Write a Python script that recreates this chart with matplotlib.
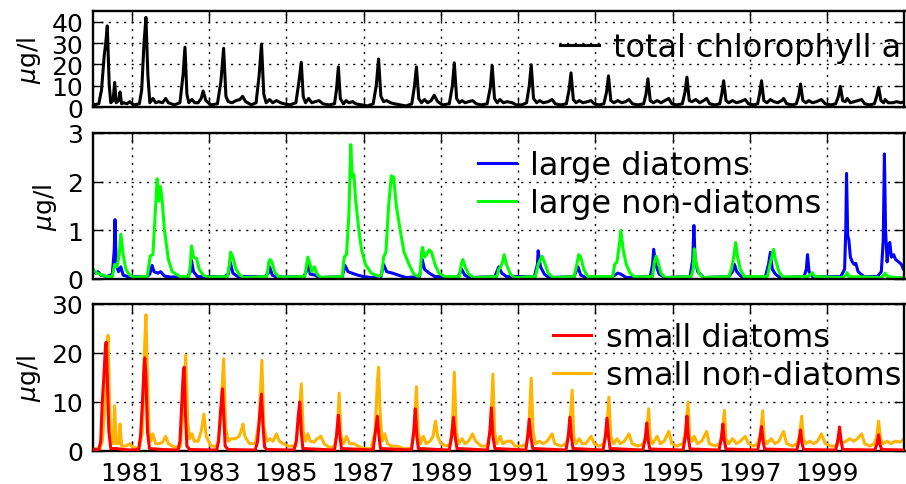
import matplotlib
matplotlib.use("Agg")
import matplotlib.pyplot as plt
import numpy as np

plt.rcParams['font.family'] = ['DejaVu Sans']
plt.rcParams['mathtext.fontset'] = 'dejavusans'
plt.rcParams['lines.scale_dashes'] = False

# ---------------- data (decimal years, values in ug/l) ----------------
total_t = [1980.00, 1980.15, 1980.22, 1980.29, 1980.33, 1980.37, 1980.42, 1980.46, 1980.52, 1980.56, 1980.60, 1980.66, 1980.70, 1980.74, 1980.80, 1980.88, 1980.95,
           1981.05, 1981.20, 1981.26, 1981.32, 1981.37, 1981.42, 1981.47, 1981.55, 1981.62, 1981.70, 1981.80, 1981.88, 1981.95,
           1982.10, 1982.25, 1982.33, 1982.38, 1982.43, 1982.48, 1982.56, 1982.63, 1982.72, 1982.80, 1982.85, 1982.92,
           1983.05, 1983.22, 1983.31, 1983.38, 1983.44, 1983.50, 1983.60, 1983.70, 1983.80, 1983.87, 1983.95,
           1984.10, 1984.22, 1984.30, 1984.36, 1984.42, 1984.48, 1984.57, 1984.65, 1984.75, 1984.85, 1984.95,
           1985.10, 1985.25, 1985.33, 1985.39, 1985.44, 1985.50, 1985.58, 1985.66, 1985.75, 1985.85, 1985.95,
           1986.10, 1986.25, 1986.30, 1986.35, 1986.40, 1986.48, 1986.55, 1986.62, 1986.72, 1986.80, 1986.95,
           1987.10, 1987.25, 1987.33, 1987.39, 1987.45, 1987.52, 1987.60, 1987.70, 1987.80, 1987.95,
           1988.10, 1988.25, 1988.32, 1988.37, 1988.43, 1988.50, 1988.58, 1988.66, 1988.75, 1988.83, 1988.92,
           1989.05, 1989.22, 1989.30, 1989.35, 1989.41, 1989.48, 1989.55, 1989.63, 1989.72, 1989.82, 1989.92,
           1990.05, 1990.20, 1990.28, 1990.33, 1990.39, 1990.46, 1990.53, 1990.62, 1990.72, 1990.85, 1990.95,
           1991.10, 1991.22, 1991.29, 1991.34, 1991.40, 1991.48, 1991.56, 1991.65, 1991.78, 1991.88, 1991.96,
           1992.10, 1992.25, 1992.32, 1992.37, 1992.43, 1992.50, 1992.58, 1992.68, 1992.80, 1992.89, 1992.97,
           1993.10, 1993.22, 1993.29, 1993.34, 1993.40, 1993.48, 1993.58, 1993.68, 1993.78, 1993.87, 1993.96,
           1994.10, 1994.25, 1994.31, 1994.36, 1994.42, 1994.50, 1994.60, 1994.70, 1994.80, 1994.90, 1994.98,
           1995.10, 1995.25, 1995.32, 1995.37, 1995.43, 1995.50, 1995.60, 1995.70, 1995.80, 1995.88, 1995.96,
           1996.10, 1996.22, 1996.27, 1996.32, 1996.38, 1996.45, 1996.55, 1996.65, 1996.75, 1996.88, 1996.96,
           1997.10, 1997.20, 1997.25, 1997.30, 1997.36, 1997.44, 1997.53, 1997.62, 1997.72, 1997.82, 1997.87, 1997.95,
           1998.10, 1998.20, 1998.26, 1998.31, 1998.37, 1998.45, 1998.52, 1998.62, 1998.72, 1998.85, 1998.95,
           1999.10, 1999.22, 1999.29, 1999.34, 1999.40, 1999.47, 1999.52, 1999.60, 1999.70, 1999.80, 1999.89, 1999.97,
           2000.10, 2000.22, 2000.28, 2000.33, 2000.39, 2000.46, 2000.50, 2000.58, 2000.70, 2000.80, 2000.90, 2001.00]
total_v = [1.0, 1.5, 8, 24, 30, 38, 10, 2, 3, 11.5, 2, 3, 7, 1.5, 2, 1.5, 2.5,
           1, 1.5, 8, 30, 42, 15, 2, 4, 2, 2.5, 2, 4, 2,
           1, 2, 15, 28, 6, 2, 3.5, 2, 2, 4, 7.5, 3,
           1, 1.5, 12, 27.5, 5, 2.5, 2, 3, 3.5, 5, 2.5,
           1, 2, 15, 29.5, 6, 2, 3.5, 2, 3, 2, 1.5,
           1, 2, 12, 21, 5, 2, 4, 2, 2.5, 3, 1.5,
           1, 1.5, 8, 18.8, 4, 1.5, 3, 2, 2.5, 1.5, 1,
           0.5, 1.5, 10, 22.5, 5, 2.5, 3, 2, 1.5, 1,
           0.5, 1.5, 10, 18.8, 4, 2, 3.5, 2, 3, 5.5, 2.5,
           1, 1.5, 10, 20.7, 4, 2, 3, 2, 2.5, 3, 1.5,
           1, 1.5, 9, 19.4, 4, 2, 3.5, 2, 2.5, 2, 1,
           1, 2, 10, 19.8, 4, 2, 3, 2, 2.5, 3.5, 1.5,
           1, 1.5, 8, 16, 3.5, 2, 3, 2, 2.5, 3, 1.5,
           1, 1.5, 7, 14.6, 3, 2, 3, 2, 2.5, 3.5, 1.5,
           1, 1.5, 6, 13.2, 3, 2, 3, 2, 3, 4, 1.5,
           1, 1.5, 7, 14, 3, 2.5, 3.5, 2, 3, 4, 1.5,
           1, 1.5, 6, 12.3, 3, 2, 3, 2, 2.5, 3.5, 1.5,
           1, 1.5, 6, 12.3, 3, 2, 3.5, 2.5, 2, 3, 4, 1.5,
           1, 1.5, 5, 10.8, 3, 2, 3, 2, 2.5, 3.5, 1.5,
           1, 1.5, 5, 9.7, 3, 2.5, 4, 2, 2.5, 3, 3.5, 1.5,
           1, 1.5, 5, 9.2, 3, 2, 3.5, 2, 2, 2.5, 2, 2.5]

ld_t = [1980.00, 1980.08, 1980.13, 1980.20, 1980.36, 1980.50, 1980.55, 1980.57, 1980.60, 1980.66, 1980.72, 1980.78, 1980.90,
        1981.40, 1981.47, 1981.53, 1981.58, 1981.68, 1981.75, 1981.85, 1982.00,
        1982.45, 1982.52, 1982.55, 1982.60, 1982.70,
        1983.40, 1983.50, 1983.55, 1983.62, 1983.75,
        1984.45, 1984.54, 1984.57, 1984.64, 1984.75,
        1985.45, 1985.52, 1985.56, 1985.62, 1985.75, 1985.85,
        1986.45, 1986.52, 1986.60, 1986.70, 1986.85, 1987.00, 1987.20,
        1987.45, 1987.52, 1987.60, 1987.75, 1987.90, 1988.10,
        1988.45, 1988.52, 1988.58, 1988.70, 1988.85,
        1989.45, 1989.54, 1989.62, 1989.75,
        1990.40, 1990.50, 1990.58, 1990.70,
        1991.42, 1991.50, 1991.52, 1991.58, 1991.68, 1991.80,
        1992.45, 1992.55, 1992.62, 1992.75,
        1993.45, 1993.58, 1993.66, 1993.80,
        1994.42, 1994.48, 1994.51, 1994.56, 1994.65, 1994.80,
        1995.45, 1995.52, 1995.55, 1995.58, 1995.65, 1995.80,
        1996.45, 1996.55, 1996.60, 1996.66, 1996.78,
        1997.40, 1997.48, 1997.53, 1997.58, 1997.66, 1997.78,
        1998.40, 1998.46, 1998.49, 1998.53, 1998.62,
        1999.35, 1999.45, 1999.48, 1999.50, 1999.53, 1999.56, 1999.60, 1999.65, 1999.70, 1999.74, 1999.80, 1999.95,
        2000.30, 2000.40, 2000.45, 2000.48, 2000.51, 2000.55, 2000.59, 2000.62, 2000.66, 2000.72, 2000.77, 2000.85, 2000.92, 2000.97, 2001.00]
ld_v = [0.15, 0.12, 0.15, 0.08, 0.05, 0.1, 0.6, 1.22, 0.3, 0.15, 0.25, 0.08, 0.05,
        0.05, 0.1, 0.28, 0.15, 0.12, 0.15, 0.06, 0.04,
        0.05, 0.15, 0.38, 0.15, 0.05,
        0.05, 0.1, 0.35, 0.12, 0.05,
        0.05, 0.12, 0.25, 0.08, 0.04,
        0.05, 0.15, 0.4, 0.1, 0.08, 0.03,
        0.05, 0.28, 0.15, 0.12, 0.08, 0.05, 0.03,
        0.05, 0.3, 0.15, 0.12, 0.08, 0.03,
        0.05, 0.4, 0.2, 0.12, 0.05,
        0.05, 0.2, 0.08, 0.03,
        0.05, 0.25, 0.12, 0.05,
        0.05, 0.3, 0.58, 0.25, 0.1, 0.03,
        0.05, 0.25, 0.08, 0.03,
        0.05, 0.12, 0.1, 0.03,
        0.05, 0.3, 0.61, 0.3, 0.1, 0.03,
        0.05, 0.4, 1.1, 0.4, 0.15, 0.03,
        0.05, 0.15, 0.3, 0.15, 0.05,
        0.05, 0.3, 0.55, 0.2, 0.1, 0.03,
        0.05, 0.2, 0.5, 0.15, 0.05,
        0.05, 0.2, 1.0, 2.17, 0.9, 0.8, 0.45, 0.35, 0.3, 0.32, 0.15, 0.05,
        0.05, 0.15, 0.8, 2.57, 1.0, 0.35, 0.7, 0.75, 0.45, 0.5, 0.4, 0.35, 0.3, 0.2, 0.25]

lnd_t = [1980.00, 1980.10, 1980.25, 1980.36, 1980.50, 1980.56, 1980.62, 1980.68, 1980.72, 1980.78, 1980.85, 1980.95, 1981.05,
         1981.40, 1981.45, 1981.48, 1981.55, 1981.60, 1981.66, 1981.70, 1981.74, 1981.78, 1981.85, 1981.95, 1982.05, 1982.25,
         1982.48, 1982.52, 1982.55, 1982.60, 1982.68, 1982.75, 1982.85, 1982.97,
         1983.48, 1983.53, 1983.56, 1983.62, 1983.70, 1983.80, 1983.90,
         1984.50, 1984.55, 1984.58, 1984.63, 1984.70, 1984.80,
         1985.48, 1985.53, 1985.56, 1985.62, 1985.66, 1985.73, 1985.80, 1985.90,
         1986.45, 1986.50, 1986.56, 1986.62, 1986.67, 1986.71, 1986.75, 1986.80, 1986.88, 1986.95, 1987.05, 1987.20,
         1987.40, 1987.47, 1987.52, 1987.58, 1987.65, 1987.72, 1987.75, 1987.78, 1987.85, 1987.95, 1988.05, 1988.18, 1988.30,
         1988.42, 1988.47, 1988.50, 1988.53, 1988.58, 1988.63, 1988.70, 1988.76, 1988.85, 1988.95, 1989.10,
         1989.48, 1989.53, 1989.57, 1989.63, 1989.72, 1989.85,
         1990.45, 1990.50, 1990.55, 1990.60, 1990.64, 1990.70, 1990.80, 1990.90,
         1991.45, 1991.52, 1991.58, 1991.62, 1991.68, 1991.78, 1991.90,
         1992.45, 1992.52, 1992.57, 1992.62, 1992.70, 1992.80,
         1993.45, 1993.50, 1993.56, 1993.62, 1993.66, 1993.72, 1993.80, 1993.90, 1994.02,
         1994.48, 1994.53, 1994.57, 1994.62, 1994.70, 1994.80,
         1995.48, 1995.53, 1995.56, 1995.60, 1995.68, 1995.78,
         1996.45, 1996.52, 1996.58, 1996.63, 1996.68, 1996.75, 1996.85,
         1997.45, 1997.52, 1997.58, 1997.61, 1997.66, 1997.75, 1997.85,
         1998.50, 1998.58, 1998.61, 1998.68,
         1999.40, 1999.48, 1999.51, 1999.56,
         2000.40, 2000.47, 2000.50, 2000.56, 2000.80, 2001.00]
lnd_v = [0.2, 0.12, 0.08, 0.05, 0.05, 0.3, 0.25, 0.5, 0.92, 0.5, 0.2, 0.08, 0.04,
         0.05, 0.3, 0.47, 0.5, 1.2, 2.06, 1.6, 1.9, 1.7, 1.0, 0.4, 0.15, 0.05,
         0.05, 0.3, 0.68, 0.45, 0.42, 0.2, 0.08, 0.04,
         0.05, 0.3, 0.55, 0.45, 0.2, 0.08, 0.03,
         0.05, 0.35, 0.4, 0.35, 0.15, 0.04,
         0.05, 0.3, 0.45, 0.3, 0.15, 0.25, 0.1, 0.03,
         0.05, 0.45, 0.5, 1.3, 2.76, 2.1, 2.15, 1.6, 1.0, 0.6, 0.3, 0.12,
         0.05, 0.1, 0.45, 0.55, 1.5, 2.12, 2.0, 2.1, 1.5, 1.0, 0.55, 0.3, 0.1,
         0.05, 0.1, 0.55, 0.65, 0.45, 0.5, 0.6, 0.55, 0.3, 0.12, 0.05,
         0.05, 0.3, 0.4, 0.25, 0.1, 0.03,
         0.05, 0.2, 0.25, 0.35, 0.5, 0.3, 0.1, 0.03,
         0.05, 0.3, 0.4, 0.47, 0.35, 0.12, 0.03,
         0.05, 0.3, 0.5, 0.45, 0.2, 0.05,
         0.05, 0.3, 0.35, 0.7, 1.0, 0.6, 0.3, 0.12, 0.04,
         0.05, 0.35, 0.47, 0.35, 0.12, 0.03,
         0.05, 0.2, 0.62, 0.35, 0.12, 0.03,
         0.05, 0.2, 0.45, 0.75, 0.45, 0.2, 0.05,
         0.05, 0.3, 0.5, 0.61, 0.4, 0.15, 0.04,
         0.05, 0.1, 0.13, 0.05,
         0.03, 0.08, 0.13, 0.05,
         0.03, 0.08, 0.12, 0.05, 0.03, 0.03]

sd_t = [1980.00, 1980.15, 1980.20, 1980.24, 1980.28, 1980.32, 1980.34, 1980.37, 1980.41, 1980.46, 1980.60, 1980.80, 1981.00,
        1981.18, 1981.23, 1981.28, 1981.32, 1981.34, 1981.37, 1981.41, 1981.46, 1981.80,
        1982.20, 1982.25, 1982.30, 1982.34, 1982.36, 1982.39, 1982.43, 1982.50,
        1983.20, 1983.25, 1983.30, 1983.35, 1983.38, 1983.42, 1983.50,
        1984.20, 1984.26, 1984.32, 1984.36, 1984.40, 1984.44, 1984.50,
        1985.20, 1985.26, 1985.31, 1985.35, 1985.39, 1985.43,
        1986.25, 1986.30, 1986.35, 1986.39, 1986.43,
        1987.25, 1987.31, 1987.36, 1987.40, 1987.44,
        1988.24, 1988.30, 1988.34, 1988.38, 1988.42,
        1989.22, 1989.28, 1989.33, 1989.37, 1989.42,
        1990.21, 1990.27, 1990.31, 1990.35, 1990.40,
        1991.20, 1991.25, 1991.29, 1991.33, 1991.38,
        1992.24, 1992.30, 1992.34, 1992.38, 1992.42,
        1993.20, 1993.26, 1993.30, 1993.34, 1993.38,
        1994.23, 1994.29, 1994.33, 1994.37, 1994.41,
        1995.27, 1995.33, 1995.37, 1995.41, 1995.45,
        1996.20, 1996.26, 1996.30, 1996.34, 1996.38,
        1997.20, 1997.26, 1997.30, 1997.34, 1997.38,
        1998.21, 1998.27, 1998.31, 1998.35, 1998.39,
        1999.22, 1999.28, 1999.32, 1999.36, 1999.40,
        2000.23, 2000.29, 2000.33, 2000.37, 2000.41, 2001.00]
sd_v = [0.3, 0.3, 2, 10, 15, 21, 22.2, 15, 4, 0.5, 0.5, 0.3, 0.2,
        0.3, 3, 10, 17, 19, 15, 4, 0.5, 0.3,
        0.2, 2, 10, 16.5, 17.1, 8, 1, 0.3,
        0.2, 2, 8, 12.7, 8, 1, 0.3,
        0.2, 2, 8, 11.6, 5, 0.8, 0.3,
        0.2, 2, 7, 10, 4, 0.5,
        0.2, 3, 7.3, 3, 0.5,
        0.2, 4, 7.1, 3, 0.5,
        0.2, 4, 8.6, 3, 0.5,
        0.2, 3, 6.9, 3, 0.5,
        0.2, 4, 8.8, 3, 0.5,
        0.2, 3, 6.5, 3, 0.5,
        0.2, 3, 6.9, 3, 0.5,
        0.2, 3, 6.7, 3, 0.5,
        0.2, 2.5, 5.7, 2, 0.4,
        0.2, 3, 7.1, 2.5, 0.4,
        0.2, 2.5, 5.5, 2, 0.4,
        0.2, 2.5, 5.0, 2, 0.4,
        0.2, 2, 4.3, 1.5, 0.3,
        0.2, 2.5, 4.9, 2, 0.3,
        0.2, 1.5, 3.3, 1.2, 0.3, 0.2]

snd_t = [1980.00, 1980.18, 1980.24, 1980.30, 1980.35, 1980.39, 1980.42, 1980.46, 1980.52, 1980.56, 1980.60, 1980.66, 1980.70, 1980.74, 1980.85, 1980.95,
         1981.02, 1981.20, 1981.28, 1981.33, 1981.37, 1981.40, 1981.45, 1981.50, 1981.55, 1981.62, 1981.72, 1981.80, 1981.88, 1981.95,
         1982.10, 1982.26, 1982.33, 1982.40, 1982.45, 1982.50, 1982.56, 1982.62, 1982.72, 1982.80, 1982.87, 1982.93,
         1983.05, 1983.22, 1983.30, 1983.38, 1983.43, 1983.50, 1983.58, 1983.68, 1983.78, 1983.85, 1983.88, 1983.93,
         1984.05, 1984.20, 1984.30, 1984.37, 1984.42, 1984.50, 1984.58, 1984.66, 1984.75, 1984.82, 1984.92,
         1985.05, 1985.25, 1985.32, 1985.39, 1985.44, 1985.50, 1985.56, 1985.62, 1985.72, 1985.80, 1985.90, 1985.98,
         1986.10, 1986.25, 1986.32, 1986.37, 1986.42, 1986.48, 1986.56, 1986.64, 1986.75, 1986.85,
         1987.00, 1987.20, 1987.30, 1987.36, 1987.39, 1987.43, 1987.48, 1987.55, 1987.62, 1987.72, 1987.85,
         1988.05, 1988.25, 1988.31, 1988.37, 1988.41, 1988.47, 1988.55, 1988.62, 1988.72, 1988.80, 1988.86, 1988.92,
         1989.00, 1989.15, 1989.25, 1989.30, 1989.35, 1989.40, 1989.46, 1989.55, 1989.63, 1989.72, 1989.82, 1989.90,
         1990.05, 1990.20, 1990.28, 1990.35, 1990.39, 1990.45, 1990.54, 1990.60, 1990.72, 1990.82, 1990.92,
         1991.10, 1991.22, 1991.28, 1991.34, 1991.39, 1991.45, 1991.55, 1991.65, 1991.75, 1991.88, 1991.95,
         1992.10, 1992.25, 1992.33, 1992.40, 1992.44, 1992.50, 1992.58, 1992.66, 1992.75, 1992.89, 1992.97,
         1993.10, 1993.22, 1993.29, 1993.35, 1993.40, 1993.47, 1993.56, 1993.64, 1993.75, 1993.87, 1993.95,
         1994.10, 1994.25, 1994.32, 1994.38, 1994.42, 1994.48, 1994.60, 1994.68, 1994.78, 1994.90, 1994.98,
         1995.10, 1995.27, 1995.33, 1995.40, 1995.44, 1995.50, 1995.56, 1995.64, 1995.75, 1995.88, 1995.95,
         1996.10, 1996.22, 1996.28, 1996.34, 1996.38, 1996.45, 1996.55, 1996.65, 1996.75, 1996.88, 1996.96,
         1997.10, 1997.20, 1997.27, 1997.33, 1997.37, 1997.44, 1997.55, 1997.65, 1997.75, 1997.87, 1997.95,
         1998.10, 1998.22, 1998.28, 1998.34, 1998.38, 1998.45, 1998.55, 1998.65, 1998.75, 1998.85, 1998.95,
         1999.10, 1999.25, 1999.32, 1999.38, 1999.48, 1999.58, 1999.68, 1999.78, 1999.89, 1999.97,
         2000.10, 2000.22, 2000.28, 2000.33, 2000.38, 2000.45, 2000.55, 2000.65, 2000.75, 2000.88, 2000.95, 2001.00]
snd_v = [0.5, 0.5, 2, 8, 18, 23.6, 12, 2, 1.5, 9.2, 1.5, 1.5, 5.5, 1, 1, 1.5,
         0.8, 0.5, 4, 20, 27.8, 18, 4, 2, 3.5, 1.5, 1.5, 1.8, 3, 1.5,
         0.8, 0.8, 8, 19.6, 6, 2.5, 3.5, 2, 2, 4, 7.5, 3,
         1, 1, 6, 18.8, 5, 2, 2.5, 2.5, 3, 4.5, 5.5, 3,
         1.5, 1.5, 6, 18.5, 5, 2, 2.5, 2, 3.5, 2, 1.5,
         1, 1, 5, 13.7, 4, 2, 3.5, 2, 1.8, 2.5, 3, 1.5,
         0.8, 0.8, 4, 11.8, 3, 1.5, 3, 1.5, 1.5, 1,
         0.5, 0.5, 4, 14, 17.1, 8, 2, 3.5, 1.5, 1.0, 1,
         0.5, 0.5, 4, 13.1, 4, 1.5, 3, 1.5, 2, 3, 6.1, 3,
         1.5, 1, 1.5, 5, 16.1, 4, 1.5, 2.5, 1.5, 2, 3.5, 2,
         1, 1, 4, 15.7, 4, 1.5, 3, 1.5, 2, 2, 1,
         1, 1.5, 5, 14.9, 4, 1.5, 2, 1.5, 2, 3.5, 1.5,
         1, 1.5, 4, 12.4, 3, 1.5, 2.5, 1.5, 1.5, 3, 1.5,
         1, 1.5, 4, 11.0, 3, 1.5, 2.5, 1.5, 2, 3.5, 1.5,
         1, 1.5, 3.5, 8.6, 2.5, 1.5, 3, 1.5, 2, 4, 1.5,
         1, 1.5, 4, 10, 3, 2, 3, 1.5, 2, 4, 1.5,
         1, 1.5, 3.5, 8.3, 2.5, 1.5, 2.5, 1.5, 2, 3, 1.5,
         1, 1.5, 3.5, 8.2, 2.5, 1.5, 2.5, 1.5, 2, 4, 1.5,
         1, 1.5, 3, 7.1, 2.5, 1.5, 2, 1.5, 2, 3.5, 1.5,
         1, 1, 2.5, 1.5, 2, 2.5, 2, 2.5, 3.5, 1.5,
         1, 1.5, 3, 6.1, 2.5, 1.5, 2, 1.5, 2, 1.8, 2.2, 2.5]

year_ticks = [1981, 1983, 1985, 1987, 1989, 1991, 1993, 1995, 1997, 1999]
year_labels = ['1981', '1983', '1985', '1987', '1989', '1991', '1993', '1995', '1997', '1999']

ylabel = r'$\mu$g/l'

# ---------------- figure ----------------
W, H = 906, 485
fig = plt.figure(figsize=(W / 100, H / 100), dpi=100)

def rect(x0, y0, x1, y1):
    return [x0 / W, 1 - y1 / H, (x1 - x0) / W, (y1 - y0) / H]

ax1 = fig.add_axes(rect(93, 12, 904.5, 108))
ax2 = fig.add_axes(rect(93, 134, 904.5, 280))
ax3 = fig.add_axes(rect(93, 305, 904.5, 452))

LW = 2.2
ax1.plot(total_t, total_v, color='black', lw=LW, label='total chlorophyll a')
ax2.plot(ld_t, ld_v, color='#0000ff', lw=LW, label='large diatoms')
ax2.plot(lnd_t, lnd_v, color='#00ff00', lw=LW, label='large non-diatoms')
ax3.plot(snd_t, snd_v, color='#ffb400', lw=LW, zorder=2)
ax3.plot(sd_t, sd_v, color='#ff0000', lw=LW, zorder=3)
# legend handles in original order
h_sd, = ax3.plot([], [], color='#ff0000', lw=LW, label='small diatoms')
h_snd, = ax3.plot([], [], color='#ffb400', lw=LW, label='small non-diatoms')

ylims = [(0, 45), (0, 3), (0, 30)]
yticks = [[0, 10, 20, 30, 40], [0, 1, 2, 3], [0, 10, 20, 30]]

for ax, yl, yt in zip([ax1, ax2, ax3], ylims, yticks):
    ax.set_xlim(1980, 2001)
    ax.set_ylim(*yl)
    ax.set_yticks(yt)
    ax.set_xticks(year_ticks)
    ax.set_xticklabels(year_labels)
    ax.grid(True, color='black', linestyle=(0, (1.5, 4.0)), linewidth=1.0)
    ax.tick_params(direction='in', length=7, width=1.0, top=True, right=True,
                   labelsize=18, pad=7)
    for s in ax.spines.values():
        s.set_linewidth(1.7)
    ax.set_ylabel(ylabel, fontsize=18, labelpad=6)

ax1.tick_params(labelbottom=False)
ax2.tick_params(labelbottom=False)

leg_kw = dict(frameon=False, fontsize=23, handlelength=1.2, handletextpad=0.45,
              labelspacing=0.22, borderaxespad=0.0, borderpad=0.0)
ax1.legend(loc='upper right', bbox_to_anchor=(0.996, 0.78), **leg_kw)
ax2.legend(loc='upper right', bbox_to_anchor=(0.898, 0.885), **leg_kw)
ax3.legend(handles=[h_sd, h_snd], loc='upper right', bbox_to_anchor=(0.996, 0.875), **leg_kw)

fig.savefig('out.png', dpi=100)
